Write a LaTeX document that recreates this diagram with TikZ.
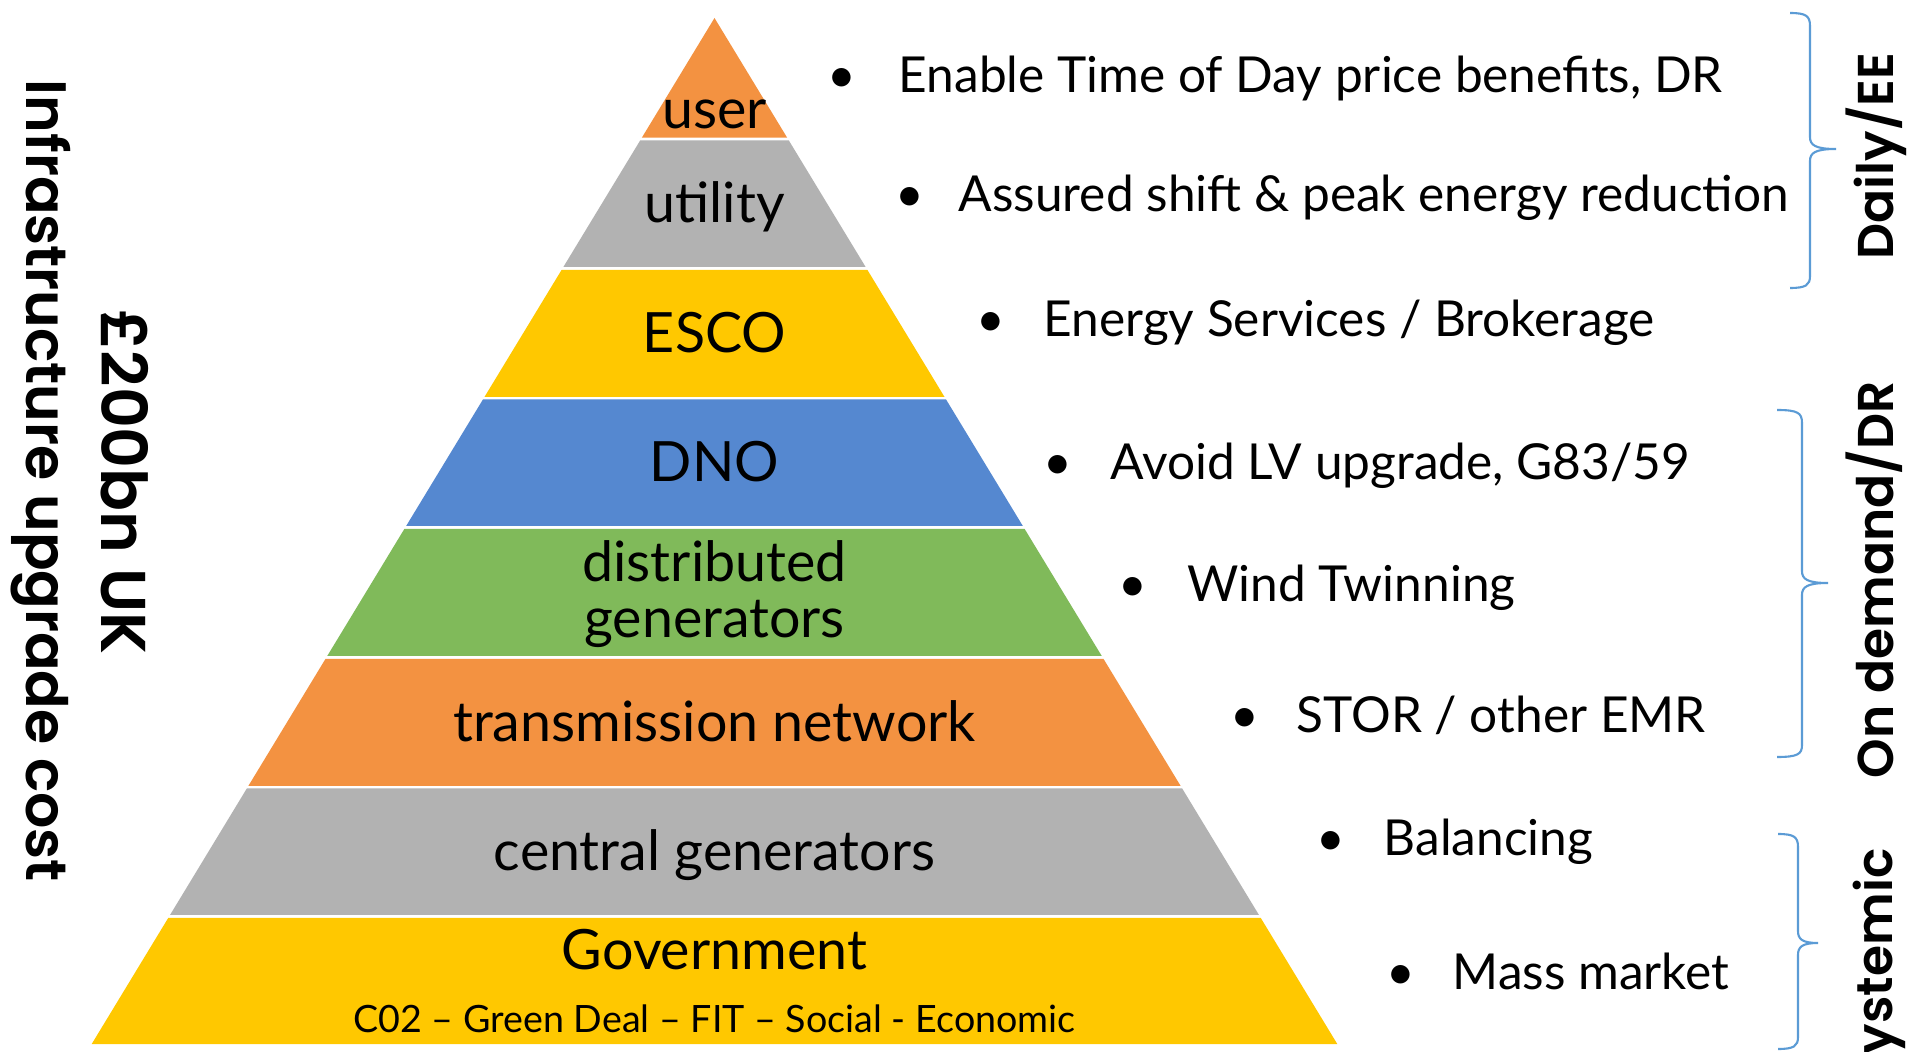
\documentclass[tikz,border=0pt]{standalone}
\usepackage{fontspec}
\setmainfont{Lato}
\IfFontExistsTF{Poppins SemiBold}{\newfontfamily\geo{Poppins SemiBold}}{\newfontfamily\geofam{Poppins}\newcommand\geo{\geofam\bfseries}}
\definecolor{pyor}{HTML}{F39241}
\definecolor{pygr}{HTML}{B2B2B2}
\definecolor{pyye}{HTML}{FFC800}
\definecolor{pybl}{HTML}{5588D0}
\definecolor{pygn}{HTML}{80BA5A}
\definecolor{brc}{HTML}{5B9BD5}
\newcommand\pylayer[3]{\fill[#3] ({714.5-0.607*(#1-18)},#1) -- ({714.5+0.607*(#1-18)},#1) -- ({714.5+0.607*(#2-18)},#2) -- ({714.5-0.607*(#2-18)},#2) -- cycle;}
\begin{document}
\begin{tikzpicture}[x=0.01cm,y=-0.01cm,
  lab/.style={font=\fontsize{15.8}{18}\selectfont, inner sep=0, anchor=base},
  sub/.style={font=\fontsize{10.7}{13}\selectfont, inner sep=0, anchor=base},
  bul/.style={font=\fontsize{14.1}{16}\selectfont, inner sep=0, anchor=base west},
  dot/.style={font=\fontsize{14.1}{16}\selectfont, inner sep=0, anchor=base},
  side/.style={font=\geo\fontsize{14.3}{17}\selectfont, inner sep=0, rotate=90},
  lefttxt/.style={font=\geo\fontsize{16.2}{20}\selectfont, inner sep=0, rotate=-90, anchor=base},
  leftbig/.style={font=\geo\fontsize{18}{20}\selectfont, inner sep=0, rotate=-90, anchor=base},
  bracel/.style={draw=brc, line width=0.6pt}]
\useasboundingbox (0,0) rectangle (1917,1052);
\fill[white] (0,0) rectangle (1917,1052);
\begin{scope}
\clip (0,0) rectangle (1917,1052);
% pyramid layers
\pylayer{18}{137.7}{pyor}
\pylayer{140.3}{267}{pygr}
\pylayer{270}{397}{pyye}
\pylayer{399.5}{526}{pybl}
\pylayer{529}{656}{pygn}
\pylayer{659}{786}{pyor}
\pylayer{788.5}{915}{pygr}
\pylayer{918}{1044}{pyye}
% labels
\node[lab] (user) at (714.5,129) {user};
\node[lab] (utility) at (714.5,223) {utility};
\node[lab] (esco) at (714.5,353) {ESCO};
\node[lab] (dno) at (714.5,482) {DNO};
\node[lab] (dist1) at (714.5,582) {distributed};
\node[lab] (dist2) at (714.5,638) {generators};
\node[lab] (trans) at (714.5,742) {transmission network};
\node[lab] (central) at (714.5,871) {central generators};
\node[lab] (gov) at (714.5,969) {Government};
\node[sub] (govsub) at (714.5,1032) {C02 – Green Deal – FIT – Social - Economic};
% bullets
\node[dot] (d1) at (842,93) {•};
\node[bul] (b1) at (898,93) {Enable Time of Day price benefits, DR};
\node[dot] (d2) at (910,212) {•};
\node[bul] (b2) at (958,212) {Assured shift \& peak energy reduction};
\node[dot] (d3) at (991,337) {•};
\node[bul] (b3) at (1043,337) {Energy Services / Brokerage};
\node[dot] (d4) at (1058,480) {•};
\node[bul] (b4) at (1110,480) {Avoid LV upgrade, G83/59};
\node[dot] (d5) at (1133,602) {•};
\node[bul] (b5) at (1187,602) {Wind Twinning};
\node[dot] (d6) at (1245,733) {•};
\node[bul] (b6) at (1296,733) {STOR / other EMR};
\node[dot] (d7) at (1331,856) {•};
\node[bul] (b7) at (1383,856) {Balancing};
\node[dot] (d8) at (1401,989) {•};
\node[bul] (b8) at (1452,989) {Mass market};
% braces
\draw[bracel] (1790,13) .. controls (1806,13) and (1810,16) .. (1810,26) -- (1810,137) .. controls (1810,145) and (1815,149) .. (1836,149) .. controls (1815,149) and (1810,153) .. (1810,161) -- (1810,276) .. controls (1810,285) and (1806,288) .. (1790,288);
\draw[bracel] (1777,410) .. controls (1798,410) and (1802,413) .. (1802,423) -- (1802,571) .. controls (1802,579) and (1807,583) .. (1828,583) .. controls (1807,583) and (1802,587) .. (1802,595) -- (1802,745) .. controls (1802,754) and (1798,757) .. (1777,757);
\draw[bracel] (1778,834) .. controls (1794,834) and (1798,837) .. (1798,847) -- (1798,931) .. controls (1798,939) and (1802,943) .. (1818,943) .. controls (1802,943) and (1798,947) .. (1798,955) -- (1798,1037) .. controls (1798,1046) and (1794,1049) .. (1778,1049);
% side labels
\node[side, anchor=base] (daily) at (1893,156) {Daily/EE};
\node[side, anchor=base] (ondemand) at (1893,580) {On demand/DR};
\node[side, anchor=base east] (systemic) at (1892,848) {systemic};
% left labels
\node[lefttxt] (cost) at (27,481) {Infrastructure upgrade cost};
\node[leftbig] (uk) at (101,482) {£200bn UK};
\end{scope}
\end{tikzpicture}
\end{document}
